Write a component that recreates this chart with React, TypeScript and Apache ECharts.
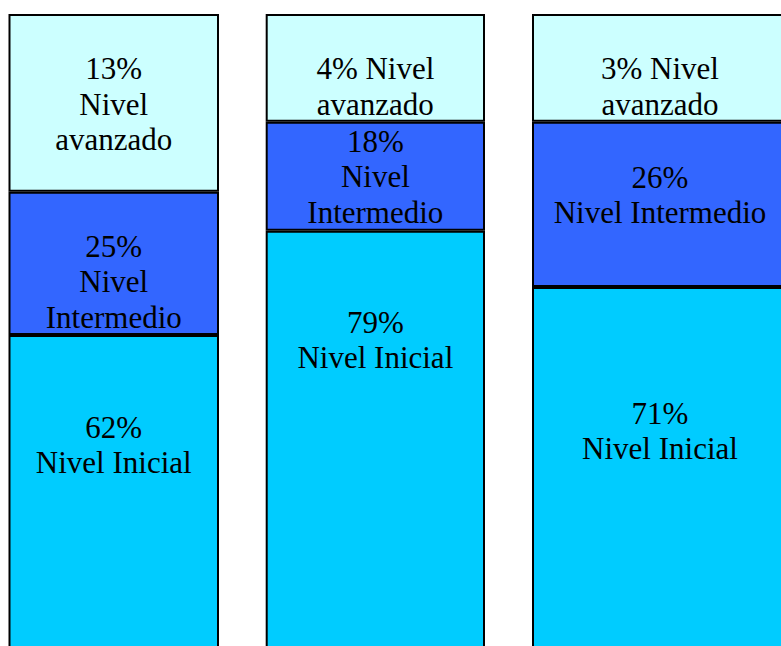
import React, { useEffect, useRef } from "react";
import * as echarts from "echarts";

// Columns (category names are not shown in the picture)
const categories = ["Columna 1", "Columna 2", "Columna 3"];

// Percentages printed in the labels
const pctInicial = [62, 79, 71];
const pctIntermedio = [25, 18, 26];
const pctAvanzado = [13, 4, 3];

// Segment heights as drawn in the picture (share of the drawn column, 0-100)
const drawnInicial = [53.2, 68.4, 60.2];
const drawnIntermedio = [20.9, 15.9, 24.1];
const drawnAvanzado = [25.9, 15.7, 15.7];

// Label wrapping as shown
const textInicial = pctInicial.map((p) => `${p}%\nNivel Inicial`);
const textIntermedio = [
  `${pctIntermedio[0]}%\nNivel\nIntermedio`,
  `${pctIntermedio[1]}%\nNivel\nIntermedio`,
  `${pctIntermedio[2]}%\nNivel Intermedio`,
];
const textAvanzado = [
  `${pctAvanzado[0]}%\nNivel\navanzado`,
  `${pctAvanzado[1]}% Nivel\navanzado`,
  `${pctAvanzado[2]}% Nivel\navanzado`,
];

// Layout (pixels)
const GRID_LEFT = [8.5, 265.7, 532];
const GRID_WIDTH = [210.5, 219.3, 256];
const LABEL_DY_INICIAL = [110, 109, 144];
const LABEL_DY_INTERMEDIO = [90, 55, 73.5];
const LABEL_DY_AVANZADO = [90, 72.5, 72.5];

const COLORS = {
  inicial: "#00CCFF",
  intermedio: "#3366FF",
  avanzado: "#CCFFFF",
};

export default function App() {
  const ref = useRef<HTMLDivElement>(null);

  useEffect(() => {
    if (!ref.current) return;
    const chart = echarts.init(ref.current, undefined, { renderer: "svg" });

    const grids = categories.map((_, i) => ({
      left: GRID_LEFT[i],
      width: GRID_WIDTH[i],
      top: 14,
      height: 686,
      containLabel: false,
    }));
    const xAxes = categories.map((c, i) => ({
      type: "category" as const,
      gridIndex: i,
      data: [c],
      show: false,
    }));
    const yAxes = categories.map((_, i) => ({
      type: "value" as const,
      gridIndex: i,
      min: 0,
      max: 100,
      show: false,
    }));

    const mkSeries = (
      name: string,
      values: number[],
      texts: string[],
      dys: number[],
      color: string
    ) =>
      categories.map((_, i) => ({
        name,
        type: "bar" as const,
        xAxisIndex: i,
        yAxisIndex: i,
        stack: "s" + i,
        barWidth: "100%",
        itemStyle: { color, borderColor: "#000", borderWidth: 2 },
        label: {
          show: true,
          position: ["50%", dys[i]],
          align: "center",
          verticalAlign: "middle",
          formatter: () => texts[i],
          color: "#000",
          fontFamily: "'Liberation Serif', 'Times New Roman', serif",
          fontSize: 31,
          lineHeight: 35.5,
        },
        data: [values[i]],
      }));

    const series = [
      ...mkSeries("Nivel Inicial", drawnInicial, textInicial, LABEL_DY_INICIAL, COLORS.inicial),
      ...mkSeries("Nivel Intermedio", drawnIntermedio, textIntermedio, LABEL_DY_INTERMEDIO, COLORS.intermedio),
      ...mkSeries("Nivel avanzado", drawnAvanzado, textAvanzado, LABEL_DY_AVANZADO, COLORS.avanzado),
    ];

    chart.setOption({
      animation: false,
      backgroundColor: "#fff",
      grid: grids,
      xAxis: xAxes,
      yAxis: yAxes,
      series,
    } as any);

    return () => chart.dispose();
  }, []);

  // The chart is larger than the window: its bottom and right side are cut off as in the reference.
  return (
    <div
      ref={ref}
      style={{ position: "fixed", left: 0, top: 0, width: 800, height: 720 }}
    />
  );
}
